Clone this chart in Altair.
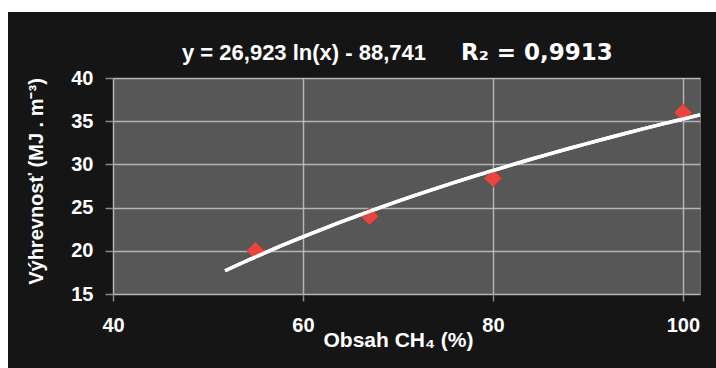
import altair as alt
import pandas as pd

# ---- data ----
methane = [55, 67, 80, 100]          # Obsah CH4 (%)
heating = [20.0, 24.0, 28.4, 36.0]   # Výhrevnosť (MJ . m-3)
x_ticks = [40, 60, 80, 100]
y_ticks = [15, 20, 25, 30, 35, 40]
trend_extent = [51.8, 101.8]
equation_text = ["y = 26,923 ln(x) - 88,741"]
r2_text = ["R₂ = 0,9913"]

df = pd.DataFrame({"x": methane, "y": heating})

W, H = 587, 216
FONT = "Liberation Sans"
BG = "#151515"

xs = alt.Scale(domain=[40, 101.8], nice=False, zero=False)
ys = alt.Scale(domain=[15, 40], nice=False, zero=False)

x_axis = alt.Axis(
    values=x_ticks, title="Obsah CH₄ (%)", grid=True, domain=False, labelFlush=False,
    labelFontSize=20, labelFont=FONT, labelFontWeight="bold", labelColor="white",
    labelPadding=14, tickSize=7, tickColor="#8a8a8a", tickWidth=1.5,
    titleFontSize=21, titleFont=FONT, titleFontWeight="bold", titleColor="white",
    titleX=285, titleY=46, titleBaseline="middle", titleAlign="center",
    gridColor="#c4c4c4", gridWidth=1.5, gridOpacity=0.85,
)
y_axis = alt.Axis(
    values=y_ticks, title="Výhrevnosť (MJ . m⁻³)", grid=True, domain=False, labelFlush=False,
    labelFontSize=20, labelFont=FONT, labelFontWeight="bold", labelColor="white",
    labelPadding=12, tickSize=8, tickColor="#8a8a8a", tickWidth=1.5,
    titleFontSize=20, titleFont=FONT, titleFontWeight="bold", titleColor="white",
    titleX=-77, titleY=103, titleAngle=-90, titleBaseline="middle", titleAlign="center",
    gridColor="#c4c4c4", gridWidth=1.5, gridOpacity=0.85,
)

base = alt.Chart(df)

trend = base.transform_regression(
    "x", "y", method="log", extent=trend_extent
).mark_line(color="white", strokeWidth=3.5).encode(
    x=alt.X("x:Q", scale=xs, axis=x_axis),
    y=alt.Y("y:Q", scale=ys, axis=y_axis),
)

shadow = base.mark_point(
    shape="diamond", filled=True, size=340, color="#3a1d1d", opacity=0.55, dx=1, dy=3
).encode(x=alt.X("x:Q", scale=xs), y=alt.Y("y:Q", scale=ys))

points = base.mark_point(
    shape="diamond", filled=True, size=330, color="#e8453e", opacity=1
).encode(x=alt.X("x:Q", scale=xs), y=alt.Y("y:Q", scale=ys))

eq = alt.Chart(pd.DataFrame({"t": equation_text})).mark_text(
    font=FONT, fontSize=22, fontWeight="bold", color="white", align="left", baseline="middle"
).encode(text="t:N", x=alt.value(69), y=alt.value(-25))

r2 = alt.Chart(pd.DataFrame({"t": r2_text})).mark_text(
    font="DejaVu Sans", fontSize=23, fontWeight="bold", color="white", align="left", baseline="middle"
).encode(text="t:N", x=alt.value(348), y=alt.value(-25))

top_strip = alt.Chart(alt.Data(values=[{}])).mark_rect(color="white").encode(
    x=alt.value(-113), x2=alt.value(W + 16), y=alt.value(-78), y2=alt.value(-66)
)
left_strip = alt.Chart(alt.Data(values=[{}])).mark_rect(color="white").encode(
    x=alt.value(-113), x2=alt.value(-105), y=alt.value(-78), y2=alt.value(H + 74)
)

chart = alt.layer(
    top_strip, left_strip, trend, shadow, points, trend, eq, r2
).properties(
    width=W, height=H,
    autosize=alt.AutoSizeParams(type="none"),
    padding={"left": 113, "top": 78, "right": 16, "bottom": 74},
    background=BG,
).configure_view(
    fill="#575757", stroke="#6a6a6a", strokeWidth=1
)

chart.save("out.html", embed_options={"renderer": "svg", "actions": False})
